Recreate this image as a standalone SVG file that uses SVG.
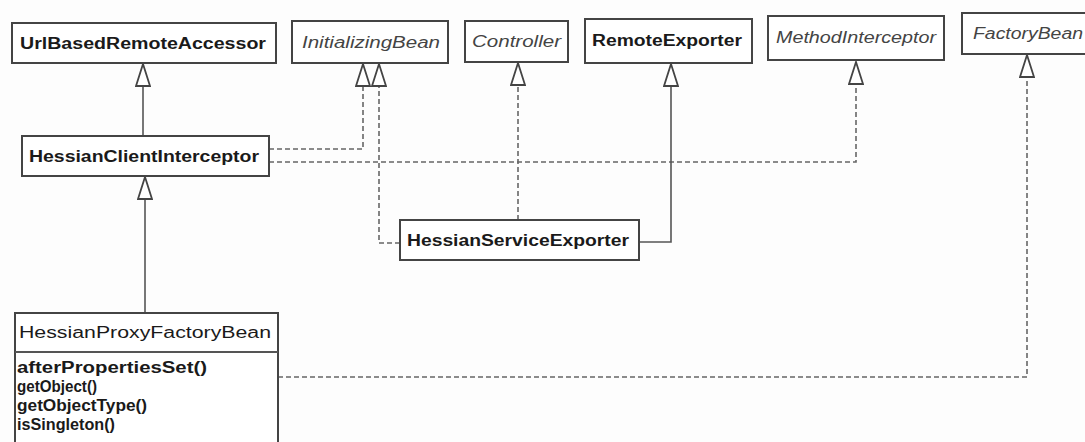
<svg xmlns="http://www.w3.org/2000/svg" width="1085" height="442" viewBox="0 0 1085 442">
<style>
.box{fill:#fff;stroke:#444;stroke-width:2}
.div{stroke:#555;stroke-width:2}
.t{font-family:"Liberation Sans",Arial,sans-serif;font-size:16px;fill:#1a1a1a}
.b{font-weight:bold}
.i{font-style:italic;fill:#444}
.solid{fill:none;stroke:#555;stroke-width:1.6}
.dash{fill:none;stroke:#666;stroke-width:1.6;stroke-dasharray:5 3}
</style>
<defs>
<marker id="gen" viewBox="0 0 24 16" refX="24" refY="8" markerWidth="24" markerHeight="16" markerUnits="userSpaceOnUse" orient="auto">
<path d="M1,1 L23,8 L1,15 Z" fill="#fff" stroke="#444" stroke-width="1.8" stroke-dasharray="none"/>
</marker>
</defs>
<rect width="1085" height="442" fill="#fdfdfd"/>
<g id="connectors">
<path class="solid" d="M143,136 V63" marker-end="url(#gen)"/>
<path class="solid" d="M145,313 V176" marker-end="url(#gen)"/>
<path class="dash" d="M269,149 H363 V63" marker-end="url(#gen)"/>
<path class="dash" d="M269,162 H856 V61" marker-end="url(#gen)"/>
<path class="dash" d="M400,243 H379 V63" marker-end="url(#gen)"/>
<path class="dash" d="M518,220 V62" marker-end="url(#gen)"/>
<path class="solid" d="M639,242 H671 V63" marker-end="url(#gen)"/>
<path class="dash" d="M278,377 H1027 V54" marker-end="url(#gen)"/>
</g>
<g id="UrlBasedRemoteAccessor">
<rect class="box" x="12" y="23" width="264" height="40"/>
<text class="t b" x="20" y="49" textLength="246" lengthAdjust="spacingAndGlyphs">UrlBasedRemoteAccessor</text>
</g>
<g id="InitializingBean">
<rect class="box" x="292" y="21" width="156" height="42"/>
<text class="t i" x="302" y="48" textLength="138" lengthAdjust="spacingAndGlyphs">InitializingBean</text>
</g>
<g id="Controller">
<rect class="box" x="465" y="21" width="103" height="41"/>
<text class="t i" x="472" y="47" textLength="89" lengthAdjust="spacingAndGlyphs">Controller</text>
</g>
<g id="RemoteExporter">
<rect class="box" x="585" y="19" width="167" height="44"/>
<text class="t b" x="592" y="46" textLength="150" lengthAdjust="spacingAndGlyphs">RemoteExporter</text>
</g>
<g id="MethodInterceptor">
<rect class="box" x="768" y="16" width="176" height="44"/>
<text class="t i" x="776" y="43" textLength="160" lengthAdjust="spacingAndGlyphs">MethodInterceptor</text>
</g>
<g id="FactoryBean">
<rect class="box" x="962" y="13" width="140" height="41"/>
<text class="t i" x="973" y="39" textLength="110" lengthAdjust="spacingAndGlyphs">FactoryBean</text>
</g>
<g id="HessianClientInterceptor">
<rect class="box" x="22" y="136" width="247" height="40"/>
<text class="t b" x="29" y="162" textLength="230" lengthAdjust="spacingAndGlyphs">HessianClientInterceptor</text>
</g>
<g id="HessianServiceExporter">
<rect class="box" x="400" y="220" width="239" height="40"/>
<text class="t b" x="407" y="246" textLength="222" lengthAdjust="spacingAndGlyphs">HessianServiceExporter</text>
</g>
<g id="HessianProxyFactoryBean">
<rect class="box" x="15" y="313" width="263" height="140"/>
<line class="div" x1="15" y1="352" x2="278" y2="352"/>
<text class="t" x="19" y="338" textLength="252" lengthAdjust="spacingAndGlyphs">HessianProxyFactoryBean</text>
<text class="t b" x="17" y="373" textLength="190" lengthAdjust="spacingAndGlyphs">afterPropertiesSet()</text>
<text class="t b" x="17" y="392" textLength="80" lengthAdjust="spacingAndGlyphs">getObject()</text>
<text class="t b" x="17" y="411" textLength="130" lengthAdjust="spacingAndGlyphs">getObjectType()</text>
<text class="t b" x="17" y="430" textLength="98" lengthAdjust="spacingAndGlyphs">isSingleton()</text>
</g>
</svg>
